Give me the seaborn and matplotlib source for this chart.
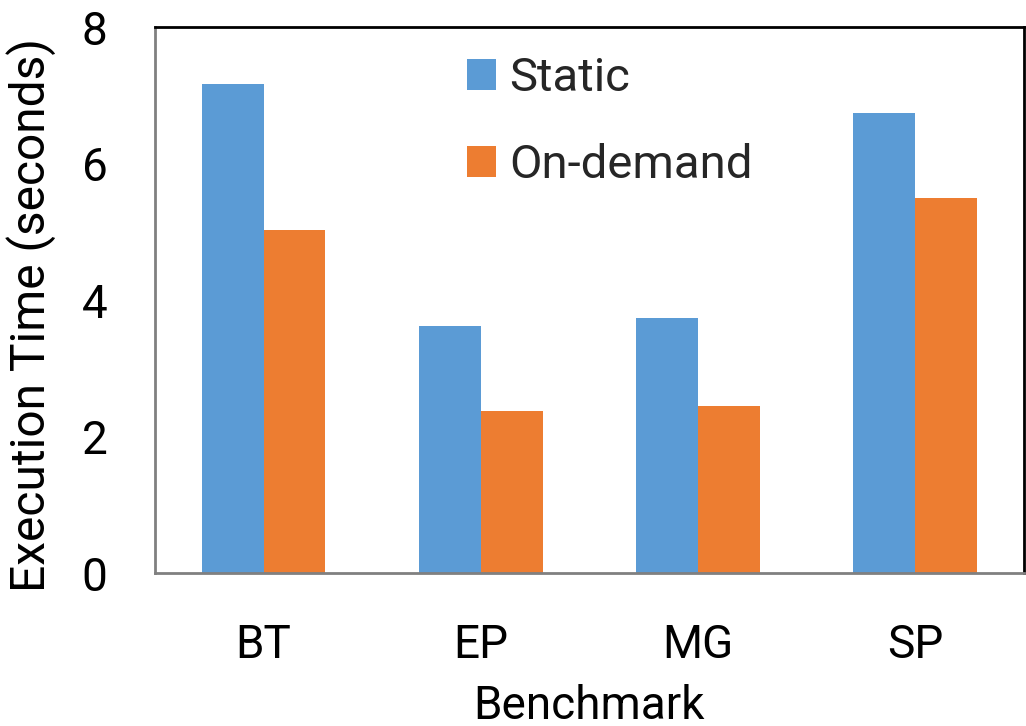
import matplotlib
matplotlib.use("Agg")
import matplotlib.pyplot as plt
from matplotlib.patches import Patch
import seaborn as sns
import pandas as pd

benchmarks = ["BT", "EP", "MG", "SP"]
static_times = [7.17, 3.62, 3.74, 6.74]
ondemand_times = [5.03, 2.37, 2.45, 5.49]
series_names = ["Static", "On-demand"]
colors = ["#5B9BD5", "#ED7D31"]
y_ticks = [0, 2, 4, 6, 8]

df = pd.DataFrame({
    "Benchmark": benchmarks * 2,
    "Time": static_times + ondemand_times,
    "Mode": [series_names[0]] * 4 + [series_names[1]] * 4,
})

sns.set_theme(style="white")
plt.rcParams["font.family"] = ["Roboto", "DejaVu Sans"]

fig = plt.figure(figsize=(10.26, 7.26), dpi=100)
ax = fig.add_axes([0.151, 0.2107, 0.847, 0.7521])

sns.barplot(data=df, x="Benchmark", y="Time", hue="Mode", palette=colors,
            width=0.57, saturation=1, ax=ax, legend=False, linewidth=0)

ax.set_ylim(0, 8)
ax.set_xlim(-0.5, 3.5)
ax.set_yticks(y_ticks)
ax.set_yticklabels([str(t) for t in y_ticks])
ax.tick_params(axis="both", length=0, labelsize=33, colors="black")
ax.tick_params(axis="y", pad=34)
ax.tick_params(axis="x", pad=36)
ax.set_xlabel("Benchmark", fontsize=33, color="black", labelpad=12)
ax.set_ylabel("Execution Time (seconds)", fontsize=34.5, color="black")
ax.yaxis.set_label_coords(-0.114, 0.4725)

for side in ["left", "bottom"]:
    ax.spines[side].set_color("#808080")
    ax.spines[side].set_linewidth(2)
for side in ["top", "right"]:
    ax.spines[side].set_visible(True)
    ax.spines[side].set_color("black")
    ax.spines[side].set_linewidth(2)

handles = [Patch(facecolor=c, edgecolor="none") for c in colors]
ax.legend(handles, series_names, loc="upper left", bbox_to_anchor=(0.31, 1.025),
          frameon=False, fontsize=34, handlelength=0.62, handleheight=0.62,
          handletextpad=0.28, labelspacing=0.92)

fig.savefig("out.png", dpi=100)
